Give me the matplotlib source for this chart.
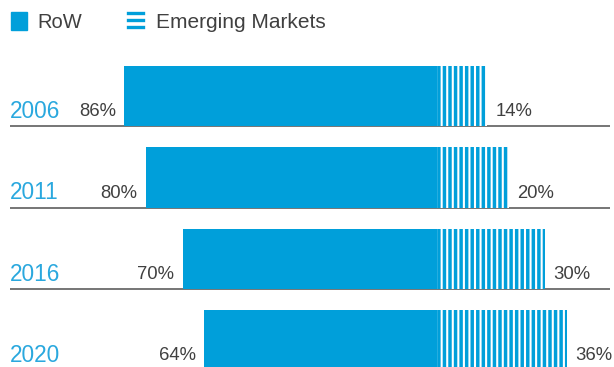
import matplotlib.pyplot as plt
import numpy as np

years = ["2006", "2011", "2016", "2020"]
row_share = [86, 80, 70, 64]
emerging_share = [14, 20, 30, 36]

BLUE = "#009fda"
YEAR_BLUE = "#2aa8de"
TEXT = "#404040"

plt.rcParams["font.family"] = ["Liberation Sans", "DejaVu Sans"]
plt.rcParams["hatch.linewidth"] = 1.5

fig = plt.figure(figsize=(6.14, 3.67), dpi=100)
ax = fig.add_axes([0, 0, 1, 1])
ax.set_xlim(-120.3, 48.9)
ax.set_ylim(3.33, -1.18)
ax.axis("off")

y = np.arange(len(years))
h = 0.74

ax.barh(y, [-v for v in row_share], height=h, color=BLUE, linewidth=0)
ax.barh(y, emerging_share, height=h, color=BLUE, edgecolor="white",
        hatch="|||", linewidth=0)

for i, (yr, r, e) in enumerate(zip(years, row_share, emerging_share)):
    base = i + h / 2
    ax.plot([-117.6, 47.8], [base, base], color="#6a6a6a", lw=1.3,
            solid_capstyle="butt", zorder=0)
    ax.text(-117.6, base - 0.1, yr, color=YEAR_BLUE, fontsize=16.3,
            ha="left", va="baseline")
    ax.text(-r - 2.4, base - 0.12, f"{r}%", color=TEXT, fontsize=13.3,
            ha="right", va="baseline")
    ax.text(e + 2.2, base - 0.12, f"{e}%", color=TEXT, fontsize=13.3,
            ha="left", va="baseline")

# legend drawn by hand at the top
fig.patches.append(plt.Rectangle((11 / 614, 1 - 30 / 367), 16 / 614, 18 / 367,
                                 transform=fig.transFigure, color=BLUE))
fig.text(37 / 614, 1 - 28 / 367, "RoW", color=TEXT, fontsize=14.5,
         ha="left", va="baseline")
for k in range(3):
    yy = 1 - (13 + 7 * k) / 367
    fig.add_artist(plt.Line2D([128 / 614, 143 / 614], [yy, yy],
                              transform=fig.transFigure, color=BLUE, lw=2.4))
fig.text(156 / 614, 1 - 28 / 367, "Emerging Markets", color=TEXT,
         fontsize=15, ha="left", va="baseline")

fig.savefig("out.png", dpi=100)
